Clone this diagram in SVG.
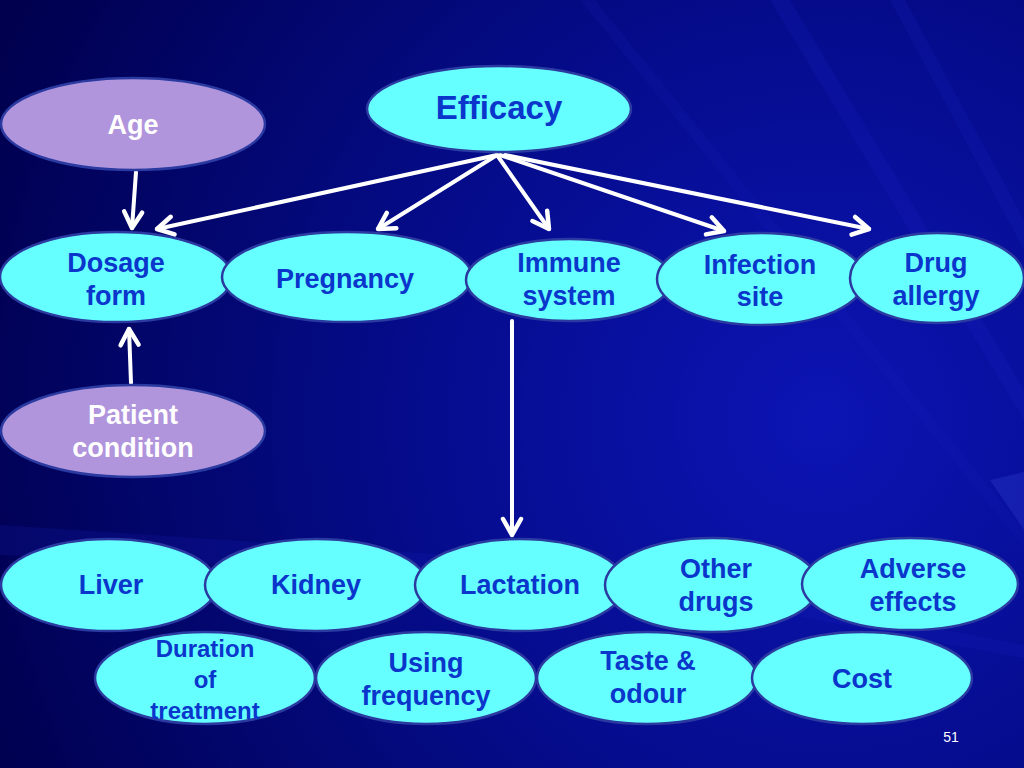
<svg xmlns="http://www.w3.org/2000/svg" width="1024" height="768" viewBox="0 0 1024 768">
<defs>
<radialGradient id="bg" cx="820" cy="420" r="900" gradientUnits="userSpaceOnUse">
<stop offset="0" stop-color="#0c14b4"/>
<stop offset="0.45" stop-color="#050c8c"/>
<stop offset="1" stop-color="#00004e"/>
</radialGradient>
<marker id="ah" markerUnits="userSpaceOnUse" markerWidth="30" markerHeight="30" viewBox="-20 -15 30 30" refX="0" refY="0" orient="auto">
<path d="M-16,-9 L0,0 L-16,9" fill="none" stroke="#ffffff" stroke-width="4.5" stroke-linecap="round" stroke-linejoin="round"/>
</marker>
</defs>
<style>
.n ellipse{fill:#66ffff;stroke:#2a3aa0;stroke-width:2.5}
.p ellipse{fill:#b094dc;stroke:#2a3aa0;stroke-width:2.5}
text{font-family:"Liberation Sans",Arial,sans-serif;font-weight:bold;text-anchor:middle}
.n text{fill:#0a36cc;font-size:27px}
.p text{fill:#ffffff;font-size:27px}
#connectors line{stroke:#ffffff;stroke-width:4;stroke-linecap:round;marker-end:url(#ah)}
</style>
<rect x="0" y="0" width="1024" height="768" fill="url(#bg)"/>
<g>
<path d="M770,0 L790,0 L1024,390 L1024,420 Z" fill="#1a22c0" opacity="0.22"/>
<path d="M890,0 L905,0 L1024,220 L1024,250 Z" fill="#1a22c0" opacity="0.2"/>
<path d="M580,0 L595,0 L1024,530 L1024,548 Z" fill="#1a22c0" opacity="0.14"/>
<path d="M0,525 L600,565 L1024,645 L1024,658 L600,580 L0,555 Z" fill="#1a22c0" opacity="0.18"/>
<path d="M990,480 L1024,472 L1024,530 Z" fill="#3a4ae0" opacity="0.25"/>
</g>
<g id="connectors">
<line x1="497" y1="155" x2="157" y2="229"/>
<line x1="497" y1="155" x2="378" y2="229"/>
<line x1="497" y1="155" x2="549" y2="229"/>
<line x1="500" y1="155" x2="724" y2="231"/>
<line x1="505" y1="155" x2="869" y2="229"/>
<line x1="136" y1="172" x2="132" y2="228"/>
<line x1="131" y1="383" x2="129" y2="329"/>
<line x1="512" y1="321" x2="512" y2="535"/>
</g>
<g id="efficacy" class="n"><ellipse cx="499" cy="109" rx="132" ry="43"/><text x="499" y="119" style="font-size:33px">Efficacy</text></g>
<g id="age" class="p"><ellipse cx="133" cy="124" rx="132" ry="46"/><text x="133" y="134">Age</text></g>
<g id="dosage-form" class="n"><ellipse cx="116" cy="277" rx="116" ry="45"/><text x="116" y="272">Dosage</text><text x="116" y="305">form</text></g>
<g id="pregnancy" class="n"><ellipse cx="347" cy="277" rx="125" ry="45"/><text x="345" y="288">Pregnancy</text></g>
<g id="immune-system" class="n"><ellipse cx="569" cy="280" rx="103" ry="41"/><text x="569" y="272">Immune</text><text x="569" y="305">system</text></g>
<g id="infection-site" class="n"><ellipse cx="761" cy="279" rx="104" ry="46"/><text x="760" y="274">Infection</text><text x="760" y="306">site</text></g>
<g id="drug-allergy" class="n"><ellipse cx="937" cy="278" rx="87" ry="45"/><text x="936" y="272">Drug</text><text x="936" y="305">allergy</text></g>
<g id="patient-condition" class="p"><ellipse cx="133" cy="431" rx="132" ry="46"/><text x="133" y="424">Patient</text><text x="133" y="457">condition</text></g>
<g id="liver" class="n"><ellipse cx="109" cy="585" rx="108" ry="46"/><text x="111" y="594">Liver</text></g>
<g id="kidney" class="n"><ellipse cx="316" cy="585" rx="111" ry="46"/><text x="316" y="594">Kidney</text></g>
<g id="lactation" class="n"><ellipse cx="520" cy="585" rx="105" ry="46"/><text x="520" y="594">Lactation</text></g>
<g id="other-drugs" class="n"><ellipse cx="712" cy="585" rx="107" ry="47"/><text x="716" y="578">Other</text><text x="716" y="611">drugs</text></g>
<g id="adverse-effects" class="n"><ellipse cx="910" cy="584" rx="108" ry="46"/><text x="913" y="578">Adverse</text><text x="913" y="611">effects</text></g>
<g id="duration" class="n"><ellipse cx="205" cy="678" rx="110" ry="46"/><text x="205" y="657" style="font-size:24px">Duration</text><text x="205" y="688" style="font-size:24px">of</text><text x="205" y="719" style="font-size:24px">treatment</text></g>
<g id="using-frequency" class="n"><ellipse cx="426" cy="678" rx="110" ry="46"/><text x="426" y="672">Using</text><text x="426" y="705">frequency</text></g>
<g id="taste-odour" class="n"><ellipse cx="647" cy="678" rx="110" ry="46"/><text x="648" y="670">Taste &amp;</text><text x="648" y="703">odour</text></g>
<g id="cost" class="n"><ellipse cx="862" cy="678" rx="110" ry="46"/><text x="862" y="688">Cost</text></g>
<text x="951" y="742" style="font-size:14px;font-weight:normal;fill:#ffffff">51</text>
</svg>
